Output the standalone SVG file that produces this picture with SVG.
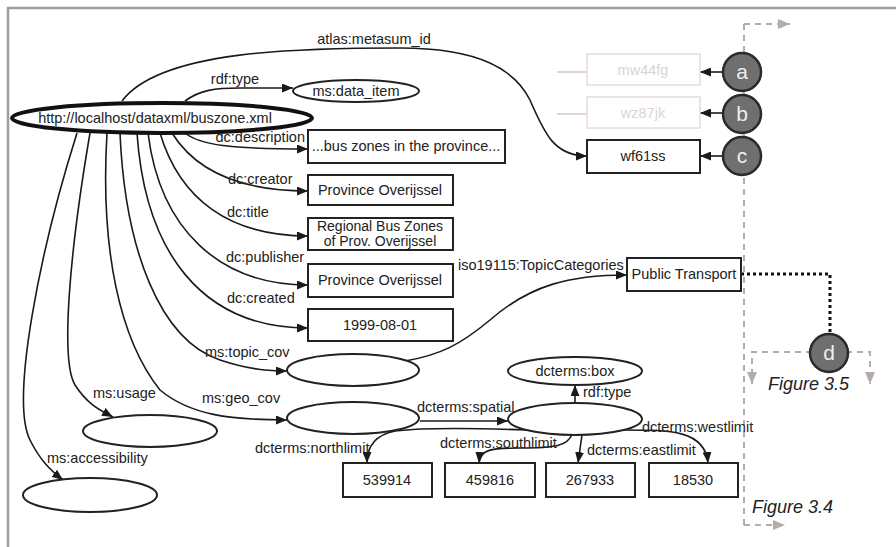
<svg xmlns="http://www.w3.org/2000/svg" width="896" height="547" viewBox="0 0 896 547">
<defs>
<marker id="ah" markerUnits="userSpaceOnUse" markerWidth="11" markerHeight="9" refX="11" refY="4.5" orient="auto"><path d="M0,0 L11,4.5 L0,9 z" fill="#1a1a1a"/></marker>
<marker id="gh" markerUnits="userSpaceOnUse" markerWidth="12" markerHeight="10" refX="12" refY="5" orient="auto"><path d="M0,0 L12,5 L0,10 z" fill="#b4aca8"/></marker>
<style>
text{font-family:"Liberation Sans",Arial,sans-serif;font-size:14.5px;fill:#222}
.m{text-anchor:middle}
.e{text-anchor:end}
text.sm{font-size:14px}
.box{fill:#fff;stroke:#222;stroke-width:2}
.ell{fill:#fff;stroke:#222;stroke-width:2}
.edge{fill:none;stroke:#1a1a1a;stroke-width:1.6;marker-end:url(#ah)}
.faded rect{fill:#fff;stroke:#e6dcd8;stroke-width:1.5}
.faded text{fill:#ddd3cf}
.circ circle{fill:#6f6f6f;stroke:#2a2a2a;stroke-width:2.5}
.circ text{fill:#eee;font-size:21px;text-anchor:middle}
.gd{fill:none;stroke:#b4aca8;stroke-width:2;stroke-dasharray:6 5}
.fig{font-style:italic;font-size:18px;fill:#222}
</style>
</defs>
<rect width="896" height="547" fill="#fff"/>
<path d="M8,547 L8,8 L896,8" fill="none" stroke="#a39d99" stroke-width="2.5"/>

<g id="guides">
<path class="gd" d="M744,525 L744,24"/>
<path class="gd" d="M744,24 L790,24" marker-end="url(#gh)"/>
<path class="gd" d="M744,525 L785,525" marker-end="url(#gh)"/>
<path class="gd" d="M812,352 L752,352 L752,384" marker-end="url(#gh)"/>
<path class="gd" d="M846,352 L870,352 L870,384" marker-end="url(#gh)"/>
<path d="M741,274 L830,274 L830,334" fill="none" stroke="#111" stroke-width="3" stroke-dasharray="3 3"/>
<path d="M557,72 L587,72 M557,114 L587,114" stroke="#d6c8c4" stroke-width="1.5"/>
</g>

<g id="connectors">
<path class="edge" d="M122,101 C160,50 300,48 400,48 C480,48 515,70 530,100 C545,135 555,156 587,156"/>
<path class="edge" d="M185,101 C200,90 215,88 240,88 L293,88"/>
<path class="edge" d="M185,133 C200,145 230,149 308,149"/>
<path class="edge" d="M172,133 C195,170 240,191 308,191"/>
<path class="edge" d="M160,133 C180,200 230,236 308,236"/>
<path class="edge" d="M148,133 C160,230 220,285 308,285"/>
<path class="edge" d="M137,133 C145,250 200,328 308,328"/>
<path class="edge" d="M120,133 C125,250 160,340 220,360 C250,370 270,371 287,371"/>
<path class="edge" d="M107,133 C100,250 120,340 160,390 C190,415 230,420 287,420"/>
<path class="edge" d="M90,133 C70,250 60,360 75,385 C88,405 100,410 113,417"/>
<path class="edge" d="M77,133 C40,250 10,400 30,440 C40,460 50,470 63,480"/>
<path class="edge" d="M405,361 C440,355 460,345 490,320 C530,285 570,275 627,275"/>
<path class="edge" d="M420,421 L508,421"/>
<path class="edge" d="M575,403 L575,385"/>
<path class="edge" d="M526,430 C470,428 420,428 395,431 C375,435 367,447 367,463"/>
<path class="edge" d="M572,434 C568,446 555,448 520,448 C490,448 480,450 479,463"/>
<path class="edge" d="M582,435 L578,463"/>
<path class="edge" d="M624,430 C670,430 705,430 708,463"/>
<path class="edge" d="M723,72 L700,72"/>
<path class="edge" d="M723,113 L700,113"/>
<path class="edge" d="M723,156 L700,156"/>
</g>

<g id="labels">
<text x="374" y="44" class="m">atlas:metasum_id</text>
<text x="235" y="84" class="m">rdf:type</text>
<text x="305" y="142" class="e">dc:description</text>
<text x="228" y="184">dc:creator</text>
<text x="227" y="217">dc:title</text>
<text x="226" y="262">dc:publisher</text>
<text x="227" y="303">dc:created</text>
<text x="205" y="357">ms:topic_cov</text>
<text x="202" y="403">ms:geo_cov</text>
<text x="93" y="398">ms:usage</text>
<text x="47" y="463">ms:accessibility</text>
<text x="458" y="270">iso19115:TopicCategories</text>
<text x="417" y="412">dcterms:spatial</text>
<text x="583" y="397">rdf:type</text>
<text x="255" y="453">dcterms:northlimit</text>
<text x="440" y="448">dcterms:southlimit</text>
<text x="587" y="455">dcterms:eastlimit</text>
<text x="642" y="432">dcterms:westlimit</text>
</g>

<g id="n-main"><ellipse cx="162" cy="118" rx="150" ry="15" fill="#fff" stroke="#111" stroke-width="4"/><text x="155" y="123" class="m">http://localhost/dataxml/buszone.xml</text></g>
<g id="n-dataitem"><ellipse class="ell" cx="356" cy="91" rx="63" ry="11"/><text x="356" y="96" class="m">ms:data_item</text></g>
<g id="n-desc"><rect class="box" x="308" y="130" width="197" height="33"/><text x="406" y="151" class="m">...bus zones in the province...</text></g>
<g id="n-creator"><rect class="box" x="308" y="175" width="145" height="30"/><text x="380" y="195" class="m">Province Overijssel</text></g>
<g id="n-title"><rect class="box" x="308" y="218" width="145" height="32"/><text x="380" y="231" class="m sm">Regional Bus Zones</text><text x="380" y="246" class="m sm">of Prov. Overijssel</text></g>
<g id="n-publisher"><rect class="box" x="308" y="264" width="145" height="33"/><text x="380" y="285" class="m">Province Overijssel</text></g>
<g id="n-created"><rect class="box" x="308" y="309" width="145" height="32"/><text x="380" y="330" class="m">1999-08-01</text></g>
<g id="n-topic"><ellipse class="ell" cx="353" cy="370" rx="66" ry="16"/></g>
<g id="n-geo"><ellipse class="ell" cx="353" cy="418" rx="66" ry="16"/></g>
<g id="n-usage"><ellipse class="ell" cx="150" cy="431" rx="67" ry="16"/></g>
<g id="n-access"><ellipse class="ell" cx="90" cy="495" rx="67" ry="17"/></g>
<g id="n-spatial"><ellipse class="ell" cx="575" cy="419" rx="67" ry="16"/></g>
<g id="n-box"><ellipse class="ell" cx="575" cy="371" rx="67" ry="14"/><text x="575" y="376" class="m">dcterms:box</text></g>
<g id="n-pt"><rect class="box" x="627" y="258" width="114" height="33"/><text x="684" y="279" class="m">Public Transport</text></g>
<g id="n-539914"><rect class="box" x="343" y="463" width="89" height="34"/><text x="387" y="485" class="m">539914</text></g>
<g id="n-459816"><rect class="box" x="445" y="463" width="90" height="34"/><text x="490" y="485" class="m">459816</text></g>
<g id="n-267933"><rect class="box" x="546" y="463" width="89" height="34"/><text x="590" y="485" class="m">267933</text></g>
<g id="n-18530"><rect class="box" x="649" y="463" width="89" height="34"/><text x="693" y="485" class="m">18530</text></g>
<g id="n-mw44fg" class="faded"><rect x="587" y="54" width="113" height="31"/><text x="643" y="75" class="m">mw44fg</text></g>
<g id="n-wz87jk" class="faded"><rect x="587" y="97" width="113" height="31"/><text x="643" y="118" class="m">wz87jk</text></g>
<g id="n-wf61ss"><rect class="box" x="587" y="140" width="113" height="33"/><text x="643" y="161" class="m">wf61ss</text></g>
<g id="n-a" class="circ"><circle cx="742" cy="72" r="19"/><text x="742" y="79">a</text></g>
<g id="n-b" class="circ"><circle cx="742" cy="114" r="19"/><text x="742" y="121">b</text></g>
<g id="n-c" class="circ"><circle cx="742" cy="156" r="19"/><text x="742" y="163">c</text></g>
<g id="n-d" class="circ"><circle cx="829" cy="353" r="19"/><text x="829" y="360">d</text></g>
<text x="768" y="390" class="fig">Figure 3.5</text>
<text x="752" y="513" class="fig">Figure 3.4</text>
</svg>
